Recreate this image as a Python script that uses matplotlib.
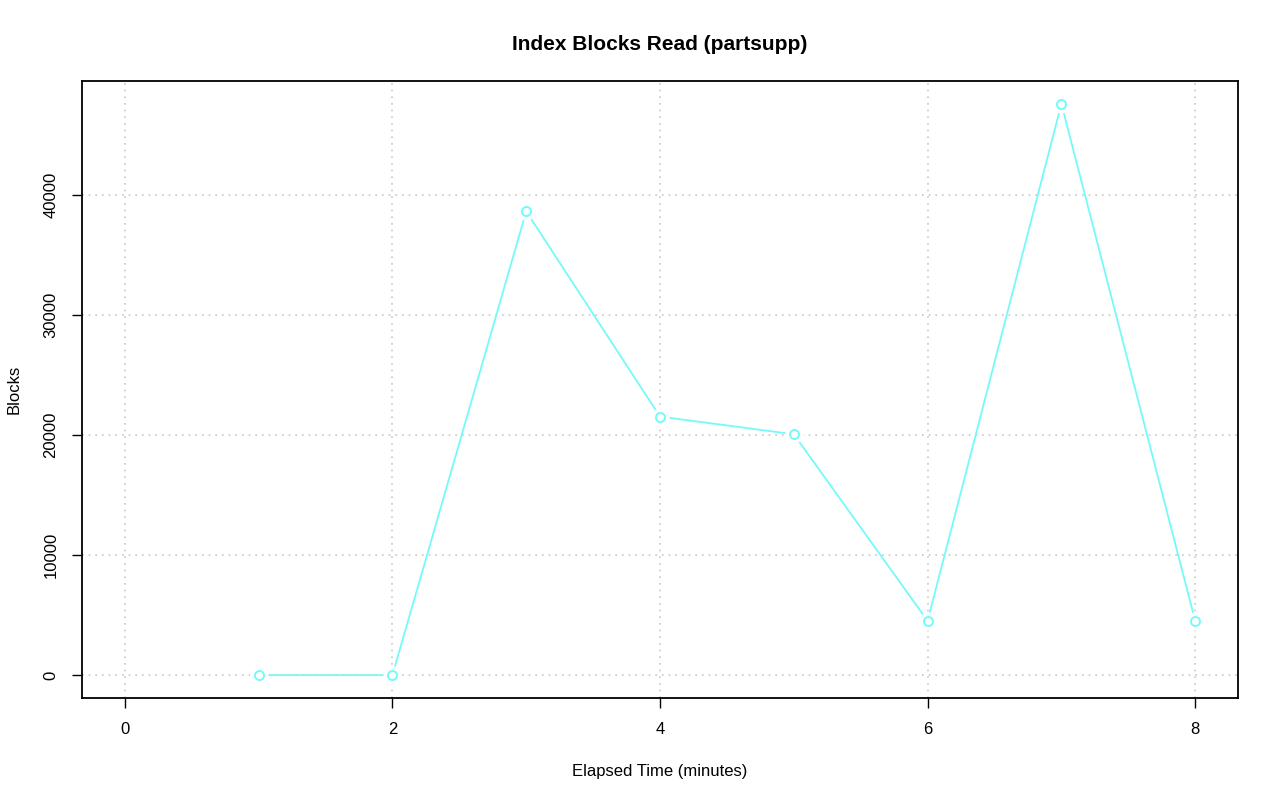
import matplotlib
matplotlib.use("Agg")
import matplotlib.pyplot as plt

# du lieu
minutes = [1, 2, 3, 4, 5, 6, 7, 8]
blocks = [0, 0, 38600, 21520, 20050, 4520, 47550, 4520]
xticks = [0, 2, 4, 6, 8]
yticks = [0, 10000, 20000, 30000, 40000]

plt.rcParams['font.family'] = ['Liberation Sans', 'DejaVu Sans']
line_color = '#74fafa'

fig = plt.figure(figsize=(12.8, 8.01), dpi=100)
ax = fig.add_axes([82/1280, 1 - 698/801, (1238 - 82)/1280, (698 - 81)/801])

ax.plot(minutes, blocks, color=line_color, lw=1.3, zorder=2)
# khoang trang quanh diem (kieu type="b" cua R)
ax.plot(minutes, blocks, 'o', ms=12, mfc='white', mec='white', zorder=3)
ax.plot(minutes, blocks, 'o', ms=6.5, mfc='white', mec=line_color, mew=1.4, zorder=4)

ax.set_xlim(-0.32, 8.32)
ymax = max(blocks)
ax.set_ylim(-0.04 * ymax, ymax * 1.04)
ax.set_xticks(xticks)
ax.set_yticks(yticks)
ax.set_yticklabels([str(v) for v in yticks], rotation=90, va='center')
ax.tick_params(direction='out', length=7, width=1, labelsize=12, pad=10)
ax.grid(True, color='#c8c8c8', linestyle=(0, (1, 3)), linewidth=1.2)
ax.set_axisbelow(True)
for s in ax.spines.values():
    s.set_linewidth(1.3)

ax.set_title('Index Blocks Read (partsupp)', fontsize=15, fontweight='bold', pad=22)
ax.set_xlabel('Elapsed Time (minutes)', fontsize=12, labelpad=20)
ax.set_ylabel('Blocks', fontsize=12, labelpad=16)

fig.savefig('out.png', dpi=100)
